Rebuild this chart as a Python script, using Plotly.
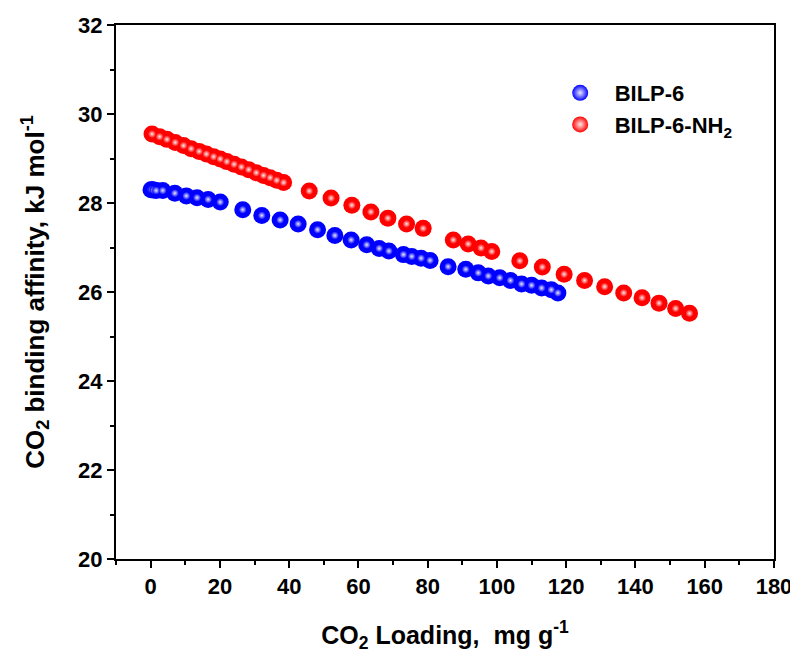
import plotly.graph_objects as go

# BILP-6 (blue)
bilp6_x = [0.1, 0.4, 0.9, 1.6, 3.5, 7.0, 10.3, 13.4, 16.6, 20.1, 26.6, 32.1, 37.4, 42.6,
           48.2, 53.2, 57.9, 62.4, 66.0, 68.8, 73.0, 75.4, 78.1, 80.7, 85.9, 91.0, 94.6,
           97.5, 100.8, 103.9, 107.1, 110.0, 112.9, 115.7, 117.6]
bilp6_y = [28.30, 28.30, 28.29, 28.28, 28.28, 28.22, 28.16, 28.12, 28.08, 28.02, 27.85, 27.72,
           27.62, 27.53, 27.40, 27.27, 27.17, 27.06, 26.98, 26.92, 26.84, 26.80, 26.76, 26.71,
           26.57, 26.51, 26.43, 26.36, 26.32, 26.26, 26.18, 26.15, 26.09, 26.05, 25.98]

# BILP-6-NH2 (red)
nh2_x = [0.4, 2.6, 4.7, 7.1, 9.5, 11.7, 14.0, 16.1, 18.2, 20.1, 22.0, 24.1, 26.2, 28.3, 30.5,
         32.6, 34.5, 36.4, 38.4, 45.8, 52.1, 58.1, 63.6, 68.5, 73.9, 78.7, 87.4, 91.7, 95.4,
         98.5, 106.6, 113.1, 119.4, 125.3, 131.1, 136.6, 141.9, 146.8, 151.6, 155.6]
nh2_y = [29.55, 29.49, 29.43, 29.36, 29.29, 29.22, 29.16, 29.10, 29.04, 28.99, 28.93, 28.87,
         28.81, 28.75, 28.68, 28.62, 28.57, 28.51, 28.46, 28.27, 28.11, 27.95, 27.80, 27.66,
         27.53, 27.43, 27.17, 27.08, 26.99, 26.91, 26.70, 26.56, 26.40, 26.26, 26.12, 25.98,
         25.87, 25.75, 25.63, 25.52]

x_ticks = [0, 20, 40, 60, 80, 100, 120, 140, 160, 180]
y_ticks = [20, 22, 24, 26, 28, 30, 32]

FONT = "Liberation Sans, Arial, sans-serif"

fig = go.Figure()

series = [
    ("BILP-6", bilp6_x, bilp6_y, "#0000ff", "#e8e8ff"),
    ("BILP-6-NH<sub>2</sub>", nh2_x, nh2_y, "#ff0000", "#ffe8e8"),
]
for gi, (name, xs, ys, col, hl) in enumerate(series):
    fig.add_trace(go.Scatter(
        x=xs, y=ys, mode="markers", name=name, legendgroup=f"g{gi}",
        marker=dict(size=17, color=col, line=dict(width=0)),
        showlegend=False,
    ))
    # highlight overlay
    fig.add_trace(go.Scatter(
        x=xs, y=ys, mode="markers", name=name, legendgroup=f"g{gi}",
        marker=dict(size=8, color=col, line=dict(width=0),
                    gradient=dict(type="radial", color=hl)),
        showlegend=False, hoverinfo="skip",
    ))
    # legend entry (sphere-like symbol)
    fig.add_trace(go.Scatter(
        x=[None], y=[None], mode="markers", name=name, legendgroup=f"g{gi}",
        marker=dict(size=16, color=col, line=dict(width=0),
                    gradient=dict(type="radial", color=hl)),
        showlegend=True,
    ))

axis_common = dict(
    showline=True, linecolor="black", linewidth=2, mirror=True,
    ticks="outside", ticklen=7, tickwidth=2, tickcolor="black",
    showgrid=False, zeroline=False, automargin=False,
    tickfont=dict(family=FONT, size=22, color="black", weight="bold"),
)

fig.update_layout(
    width=790, height=656,
    margin=dict(l=108, r=24, t=17, b=105),
    paper_bgcolor="white", plot_bgcolor="white",
    font=dict(family=FONT, color="black"),
    xaxis=dict(range=[-10, 180], tickvals=x_ticks,
               minor=dict(dtick=10, ticks="outside", ticklen=4, tickwidth=2, tickcolor="black"),
               title=dict(text="CO<sub>2</sub> Loading,  mg g<sup>-1</sup>",
                          font=dict(family=FONT, size=25, color="black", weight="bold"),
                          standoff=28),
               **axis_common),
    yaxis=dict(range=[20, 32], tickvals=y_ticks,
               minor=dict(dtick=1, ticks="outside", ticklen=4, tickwidth=2, tickcolor="black"),
               title=dict(text="CO<sub>2</sub> binding affinity, kJ mol<sup>-1</sup>",
                          font=dict(family=FONT, size=26, color="black", weight="bold"),
                          standoff=26),
               **axis_common),
    legend=dict(x=0.653, y=0.912, xanchor="left", yanchor="top",
                bgcolor="rgba(0,0,0,0)", borderwidth=0,
                font=dict(family=FONT, size=22, color="black", weight="bold"),
                tracegroupgap=0, traceorder="grouped", itemwidth=59),
    showlegend=True,
)

fig.write_html("out.html")
